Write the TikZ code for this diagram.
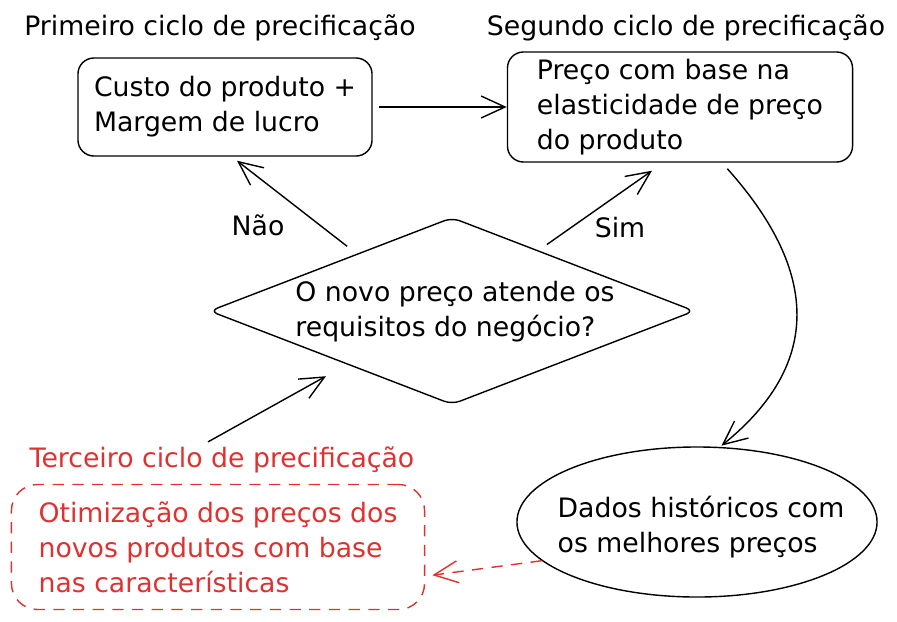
\documentclass[tikz,border=0pt]{standalone}
\usepackage{fontspec}
\setmainfont{DejaVu Sans}
\usetikzlibrary{shapes.geometric, arrows.meta}
\definecolor{sketchred}{RGB}{224,49,49}
\tikzset{
	hand/.style={font=\fontsize{19}{25}\selectfont, align=left},
	card/.style={draw, line width=1pt, rounded corners=0.4cm, inner sep=0pt},
	link/.style={line width=1pt, -{Straight Barb[length=6mm,width=5.5mm]}},
	reddash/.style={sketchred, dash pattern=on 8pt off 6pt},
}

\begin{document}
\begin{tikzpicture}[x=0.025cm, y=-0.025cm]
	\useasboundingbox (0,0) rectangle (897,621);
	% first and second cycle
	\node[hand] (first) at (220,28) {Primeiro ciclo de precificação};
	\node[hand] (second) at (686,28) {Segundo ciclo de precificação};
	\node[hand, card, minimum width=7.35cm, minimum height=2.45cm] (box1) at (225,107) {Custo do produto +\\Margem de lucro};
	\node[hand, card, minimum width=8.625cm, minimum height=2.75cm] (box2) at (680,107) {Preço com base na\\elasticidade de preço\\do produto};
	% decision
	\node[diamond, draw, line width=1pt, rounded corners=6pt, minimum width=12.125cm, minimum height=4.675cm] (dia) at (452,311) {};
	\node[hand] (ask) at (455,312) {O novo preço atende os\\requisitos do negócio?};
	\node[hand] (no) at (258,225) {Não};
	\node[hand] (yes) at (620,228) {Sim};
	% history and third cycle
	\node[ellipse, draw, line width=1pt, minimum width=9cm, minimum height=3.75cm] (hist) at (697,522) {};
	\node[hand] (histtext) at (701,527) {Dados históricos com\\os melhores preços};
	\node[hand, sketchred] (third) at (222,460) {Terceiro ciclo de precificação};
	\node[hand, card, reddash, rounded corners=0.65cm, minimum width=10.325cm, minimum height=3.125cm] (redbox) at (218,547) {Otimização dos preços dos\\novos produtos com base\\nas características};

	\draw[link, shorten <=0.15cm] (box1.east) -- (box2.west);
	\draw[link, shorten <=0.3cm] (dia.149) -- ([xshift=0.3cm,yshift=-0.1cm]box1.south);
	\draw[link, shorten <=0.25cm] (dia.35) -- ([xshift=-0.7cm,yshift=-0.2cm]box2.south);
	\draw[link, shorten <=0.2cm, shorten >=0.05cm] (box2.-53) .. controls (800,250) and (840,350) .. (hist.73);
	\draw[link, shorten >=0.6cm] ([xshift=-0.35cm]third.north) -- (dia.207);
	\draw[link, reddash, shorten >=0.18cm] (hist.194) -- (redbox.-8.5);
\end{tikzpicture}
\end{document}
